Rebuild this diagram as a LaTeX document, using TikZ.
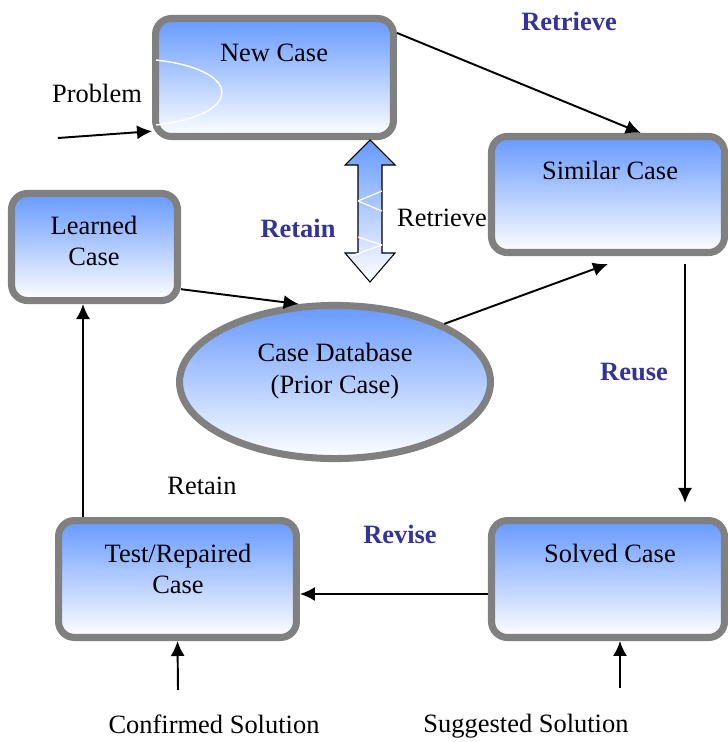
\documentclass[tikz,border=0pt]{standalone}
\usepackage{fontspec}
\setmainfont{Liberation Serif}
\usetikzlibrary{arrows.meta,shapes.geometric}

\definecolor{boxblue}{RGB}{102,153,255}
\definecolor{rimgray}{RGB}{128,128,128}
\definecolor{phaseblue}{RGB}{51,51,153}

\tikzset{
	casebox/.style = {rectangle, rounded corners = 9pt, draw = rimgray, line width = 4pt, top color = boxblue, bottom color = white},
	casebase/.style = {ellipse, draw = rimgray, line width = 4pt, top color = boxblue, bottom color = white},
	casetext/.style = {font = \fontsize{15}{18}\selectfont, align = center, inner sep = 0pt},
	phasetext/.style = {casetext, font = \fontsize{15}{18}\selectfont\bfseries, text = phaseblue},
	arr/.style = {line width = 1.1pt, ->}
}

\begin{document}
\begin{tikzpicture}[x = 0.567pt, y = -0.567pt, >= {Latex[length = 8.5pt, width = 8pt]}]
	 \useasboundingbox (0, 0) rectangle (728, 742);
	 
	 % boxes
	 \node[casebox, minimum width = 134.9pt, minimum height = 66.9pt] (new) at (274.5, 77.5) {};
	 \node[casebox, minimum width = 132.1pt, minimum height = 65.8pt] (similar) at (608, 194.5) {};
	 \node[casebox, minimum width = 94.1pt, minimum height = 60.7pt] (learned) at (94.5, 247) {};
	 \node[casebox, minimum width = 134.9pt, minimum height = 66.3pt] (test) at (177.5, 579) {};
	 \node[casebox, minimum width = 132.1pt, minimum height = 66.3pt] (solved) at (608, 579) {};
	 \node[casebase, minimum width = 176.3pt, minimum height = 86.8pt] (db) at (335, 382) {};
	 
	 \draw[white, line width = 0.8pt] (156, 60) .. controls (244, 70) and (244, 115) .. (156, 125);
	 
	 % box texts
	 \node[casetext] (newtxt) at (274, 53) {New Case};
	 \node[casetext] (similartxt) at (610, 170) {Similar Case};
	 \node[casetext] (learnedtxt) at (94, 241) {Learned\\Case};
	 \node[casetext] (testtxt) at (178, 569) {Test/Repaired\\Case};
	 \node[casetext] (solvedtxt) at (610, 553) {Solved Case};
	 \node[casetext] (dbtxt) at (335, 371) {Case Database\\(Prior Case)};
	 
	 % retrieve / retain link
	 \draw[line width = 0.6pt, top color = boxblue, bottom color = white] (370, 140) -- (395, 165) -- (382, 165) -- (382, 253) -- (395, 253) -- (370, 282) -- (345, 253) -- (358, 253) -- (358, 165) -- (345, 165) -- cycle;
	 \draw[white, line width = 0.7pt] (358, 201) -- (382, 191);
	 \draw[white, line width = 0.7pt] (358, 201) -- (382, 211);
	 \draw[white, line width = 0.7pt] (358, 237) -- (382, 245);
	 \draw[white, line width = 0.7pt] (351, 256) -- (382, 245);
	 
	 % other labels
	 \node[casetext] (problem) at (97, 93) {Problem};
	 \node[casetext] (retrieve) at (442, 218) {Retrieve};
	 \node[casetext] (retain) at (202, 486) {Retain};
	 \node[casetext] (confirmed) at (214, 724) {Confirmed Solution};
	 \node[casetext] (suggested) at (526, 726) {Suggested Solution};
	 
	 \node[phasetext] (retrievephase) at (569, 21) {Retrieve};
	 \node[phasetext] (retainphase) at (298, 228) {Retain};
	 \node[phasetext] (reusephase) at (634, 372) {Reuse};
	 \node[phasetext] (revisephase) at (400, 534) {Revise};
	 
	 % arrows
	 \coordinate (prob) at (58, 138);
	 \coordinate (cfm) at (178, 690);
	 \coordinate (sgs) at (620, 688);
	 
	 \draw[arr] (prob) -- ([yshift = 5pt]new.south west);
	 \draw[arr] (new.20) -- (similar.62);
	 \draw[arr] (learned.-26) -- (db.115);
	 \draw[arr] (db.28) -- ([yshift = -4.5pt]similar.south);
	 \draw[arr, shorten <= 4.5pt, shorten >= 8pt] (similar.south -| 685, 0) -- (solved.north -| 685, 0);
	 \draw[arr] ([yshift = -8.5pt]solved.west) -- ([yshift = -8.5pt]test.east);
	 \draw[arr] (test.north -| 83, 0) -- (learned.south -| 83, 0);
	 \draw[arr] (cfm) -- (test.south);
	 \draw[arr] (sgs) -- (solved.south -| 620, 0);
\end{tikzpicture}
\end{document}
